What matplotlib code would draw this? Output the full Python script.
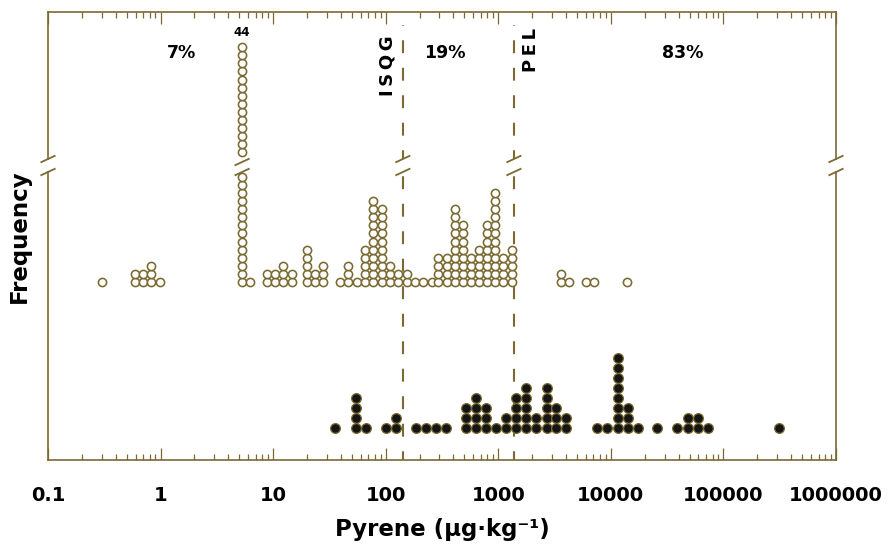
import numpy as np
import matplotlib
matplotlib.use('Agg')
import matplotlib.pyplot as plt
from matplotlib.ticker import FixedLocator, LogLocator, NullFormatter

OLIVE = '#7a6a32'

# upper dot plot (open circles): bin centre in ug/kg and number of samples
open_x = [0.30, 0.59, 0.70, 0.83, 0.99, 5.3, 6.2, 8.75, 10.4, 12.3, 14.6,
          19.8, 23.5, 27.9, 39.2, 46.5, 55.2, 65.3, 77.4, 92, 109, 129, 153,
          182, 215, 256, 292, 347, 412, 488, 568, 677, 797, 933, 1105, 1312,
          3600, 4260, 5960, 7060, 13800]
open_n = [1, 2, 2, 3, 1, 44, 1, 2, 2, 3, 2,
          5, 2, 3, 1, 3, 1, 5, 11, 10, 3, 2, 2,
          1, 1, 1, 4, 4, 10, 8, 4, 5, 8, 12, 4, 5,
          2, 1, 1, 1, 1]

# lower dot plot (filled circles)
filled_x = [35.4, 54.0, 66.7, 99.8, 123, 185, 228, 279, 343, 512, 629, 771,
            946, 1161, 1425, 1758, 2158, 2685, 3250, 3983, 7554, 9310, 11540,
            14250, 17270, 25780, 38800, 47980, 58880, 72270, 308600]
filled_n = [1, 4, 1, 1, 2, 1, 1, 1, 1, 3, 4, 3,
            1, 2, 4, 5, 2, 5, 3, 2, 1, 1, 8,
            3, 1, 1, 1, 2, 2, 1, 1]

# guideline values and region shares
isqg = 142
pel = 1376
region_x = [1.52, 336, 43500]
region_pct = ['7%', '19%', '83%']
decades = [0.1, 1, 10, 100, 1000, 10000, 100000, 1000000]
decade_labels = ['0.1', '1', '10', '100', '1000', '10000', '100000', '1000000']

# vertical layout (y axis in pixel-like units above the bottom spine)
OPEN_BASE, OPEN_STEP = 178, 8.1
FILL_BASE, FILL_STEP = 32.3, 10.0
BREAK_LO, BREAK_HI = 288, 301
ROWS_BELOW_BREAK = 14
ROWS_ABOVE_BREAK = 14
Y_TOP = 448
DEC_PX = 112.6  # pixels per decade
TS = '\u2009'


def open_rows(n):
    """Row positions of a stack, hiding the middle part of very tall stacks."""
    if n <= ROWS_BELOW_BREAK + ROWS_ABOVE_BREAK:
        return list(range(n))
    hidden = n - ROWS_BELOW_BREAK - ROWS_ABOVE_BREAK
    rows = list(range(ROWS_BELOW_BREAK))
    for i in range(ROWS_BELOW_BREAK + hidden, n):
        rows.append(i - hidden + 2)
    return rows


def slash(ax, x, y, clip=False):
    f = 10 ** (7.5 / DEC_PX)
    ax.plot([x / f, x * f], [y - 3.5, y + 3.5], color=OLIVE, lw=1.3,
            clip_on=clip, zorder=6, solid_capstyle='butt')


plt.rcParams['font.family'] = 'DejaVu Sans'
plt.rcParams['font.weight'] = 'bold'

fig = plt.figure(figsize=(8.96, 5.48), dpi=100)
ax = fig.add_axes([48 / 896, 88 / 548, 788 / 896, 448 / 548])
ax.set_xscale('log')
ax.set_xlim(0.1, 1e6)
ax.set_ylim(0, Y_TOP)

# open circles
ox, oy = [], []
for x, n in zip(open_x, open_n):
    for r in open_rows(n):
        ox.append(x)
        oy.append(OPEN_BASE + r * OPEN_STEP)
    if n > ROWS_BELOW_BREAK + ROWS_ABOVE_BREAK:
        top = OPEN_BASE + open_rows(n)[-1] * OPEN_STEP
        ax.text(x, top + 8, str(n), ha='center', va='bottom', fontsize=8.5,
                fontweight='bold')
        slash(ax, x, BREAK_HI - 3)
        slash(ax, x, BREAK_LO)
ax.plot(ox, oy, 'o', ms=5.9, mfc='white', mec=OLIVE, mew=1.15, ls='none',
        zorder=4)

# filled circles
fx, fy = [], []
for x, n in zip(filled_x, filled_n):
    for r in range(n):
        fx.append(x)
        fy.append(FILL_BASE + r * FILL_STEP)
ax.plot(fx, fy, 'o', ms=7.0, mfc='#151515', mec=OLIVE, mew=0.9, ls='none',
        zorder=4)

# guideline lines with breaks
for v in (isqg, pel):
    for y0, y1 in ((0, BREAK_LO), (BREAK_HI, 435)):
        ax.plot([v, v], [y0, y1], color=OLIVE, lw=1.5,
                ls=(2, (6.2, 7.0)), zorder=3)
    slash(ax, v, BREAK_HI)
    slash(ax, v, BREAK_LO)

ax.annotate(TS.join('ISQG'), xy=(isqg, 394), xytext=(-11, 0),
            textcoords='offset points', rotation=90, ha='center',
            va='center', fontsize=13, fontweight='bold')
ax.annotate(TS.join('PEL'), xy=(pel, 410), xytext=(12, 0),
            textcoords='offset points', rotation=90, ha='center',
            va='center', fontsize=13, fontweight='bold')
for x, t in zip(region_x, region_pct):
    ax.text(x, 407, t, ha='center', va='center', fontsize=12.5,
            fontweight='bold')

# frame: broken left/right spines
for s in ('left', 'right'):
    ax.spines[s].set_visible(False)
for s in ('top', 'bottom'):
    ax.spines[s].set_color(OLIVE)
    ax.spines[s].set_linewidth(1.2)
for xe in (0.1, 1e6):
    ax.plot([xe, xe], [0, BREAK_LO], color=OLIVE, lw=1.2, clip_on=False)
    ax.plot([xe, xe], [BREAK_HI, Y_TOP], color=OLIVE, lw=1.2, clip_on=False)
    slash(ax, xe, BREAK_HI)
    slash(ax, xe, BREAK_LO)

ax.xaxis.set_major_locator(FixedLocator(decades))
ax.set_xticklabels(decade_labels)
ax.xaxis.set_minor_locator(LogLocator(base=10, subs=np.arange(2, 10)))
ax.xaxis.set_minor_formatter(NullFormatter())
ax.tick_params(axis='x', which='both', direction='in', top=True,
               color=OLIVE, width=0.9, pad=19, labelsize=14)
ax.tick_params(axis='x', which='major', length=8.5)
ax.tick_params(axis='x', which='minor', length=4)
ax.set_yticks([])
for lab in ax.get_xticklabels():
    lab.set_fontweight('bold')

ax.set_xlabel('Pyrene (µg·kg⁻¹)', fontsize=16.5, fontweight='bold',
              labelpad=9)
ax.set_ylabel('Frequency', fontsize=16.5, fontweight='bold', labelpad=12)

fig.savefig('out.png', dpi=100)
